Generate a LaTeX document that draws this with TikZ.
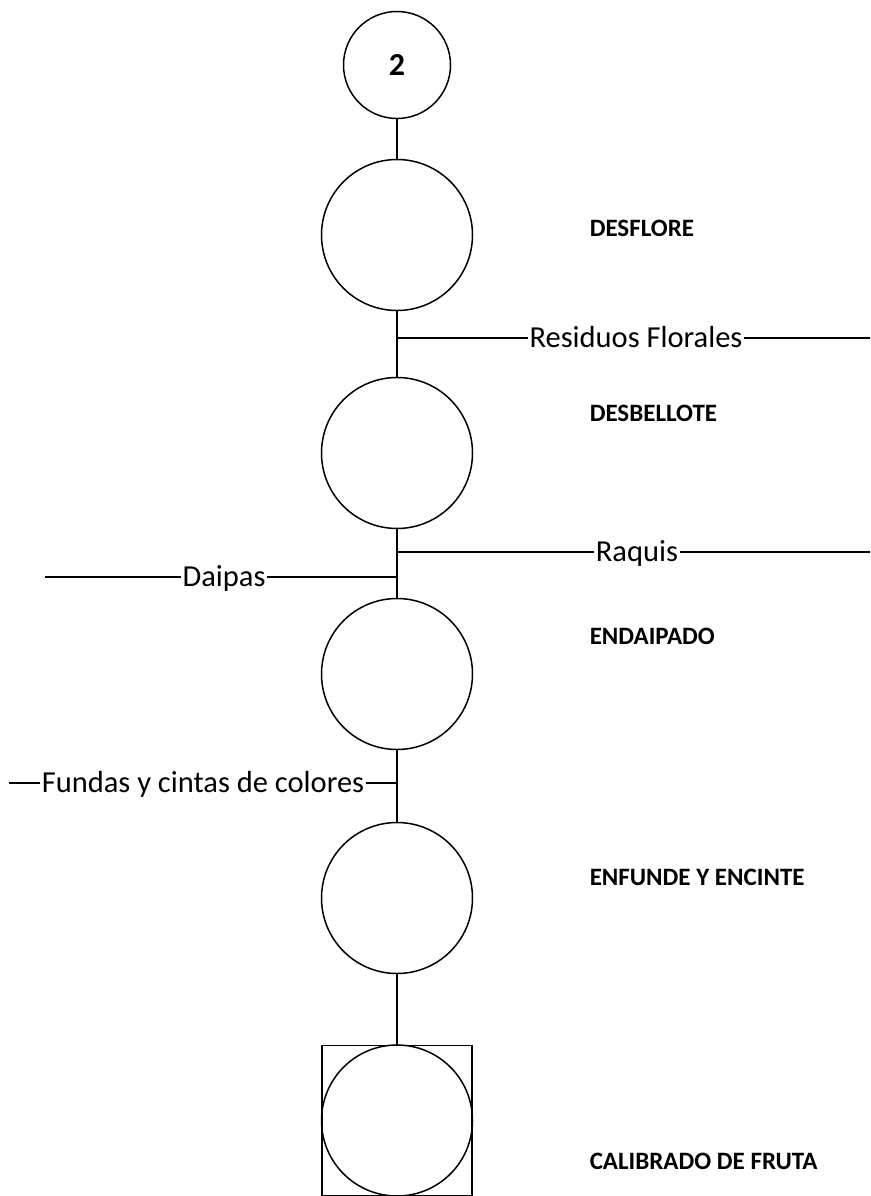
\documentclass[tikz,border=0pt]{standalone}
\usepackage{fontspec}
\setmainfont{Carlito}
\usetikzlibrary{positioning}
\usetikzlibrary{calc}

\begin{document}
\begin{tikzpicture}[x=1pt,y=-1pt,line width=1.5pt]
		\tikzstyle{op}=[circle,draw,minimum size=151pt,inner sep=0pt]
		\tikzstyle{conn}=[circle,draw,minimum size=107pt,inner sep=0pt,font=\bfseries\fontsize{32}{38}\selectfont]
		\tikzstyle{insp}=[draw,minimum size=150pt,inner sep=0pt,line width=1.3pt]
		\tikzstyle{lbl}=[anchor=west,inner sep=0pt,font=\bfseries\fontsize{25}{30}\selectfont]
		\tikzstyle{flow}=[inner sep=1pt,text height=19pt,text depth=0pt,font=\fontsize{30.5}{36}\selectfont]
		
		\useasboundingbox (0,0) rectangle (870,1196);
		
		\node[conn]       (C2)    at (397,65)      {2};
		\node[op]         (D1)    at (397,235)     {};
		\node[op]         (D2)    at (397,453)     {};
		\node[op]         (D3)    at (397,674)     {};
		\node[op]         (D4)    at (397,898)     {};
		\node[op]         (D5)    at (397,1120.5)  {};
		\node[insp]       (Q5)    at (D5)          {};
		
		\node[lbl]        (L1)    at (589,228.5)   {DESFLORE};
		\node[lbl]        (L2)    at (589,413.5)   {DESBELLOTE};
		\node[lbl]        (L3)    at (589,636.5)   {ENDAIPADO};
		\node[lbl]        (L4)    at (589,877.5)   {ENFUNDE Y ENCINTE};
		\node[lbl]        (L5)    at (589,1161.5)  {CALIBRADO DE FRUTA};
		
		\coordinate       (J1)    at (397,338);
		\coordinate       (E1)    at (870,338);
		\node[flow]       (F1)    at (636,338)     {Residuos Florales};
		\coordinate       (J2)    at (397,552);
		\coordinate       (E2)    at (870,552);
		\node[flow]       (F2)    at (637,552)     {Raquis};
		\coordinate       (J3)    at (397,577);
		\coordinate       (E3)    at (45,577);
		\node[flow]       (F3)    at (224,577)     {Daipas};
		\coordinate       (J4)    at (397,783);
		\coordinate       (E4)    at (9,783);
		\node[flow]       (F4)    at (203,783)     {Fundas y cintas de colores};
		
		\path 	(C2)   edge    (D1)
		(D1)   edge    (D2)
		(D2)   edge    (D3)
		(D3)   edge    (D4)
		(D4)   edge    (Q5)
		;
		
		\draw[line width=1.2pt] (J1) -- (F1) -- (E1);
		\draw[line width=1.2pt] (J2) -- (F2) -- (E2);
		\draw[line width=1.2pt] (J3) -- (F3) -- (E3);
		\draw[line width=1.2pt] (J4) -- (F4) -- (E4);
\end{tikzpicture}
\end{document}
